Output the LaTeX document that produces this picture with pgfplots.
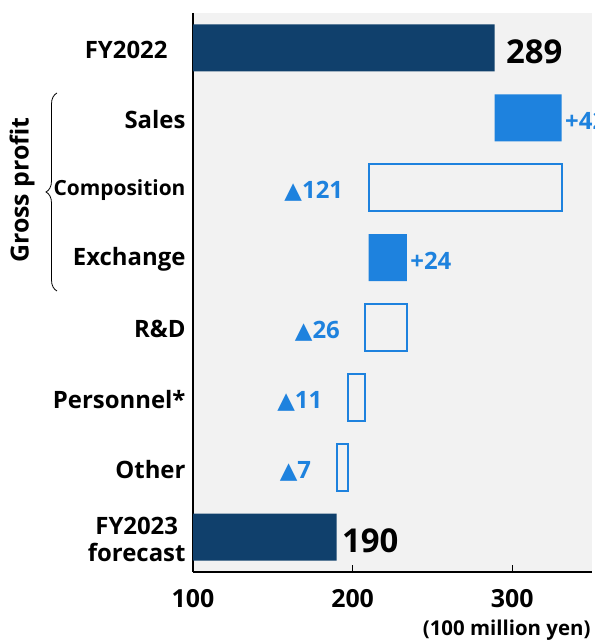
\documentclass[border=0pt]{standalone}
\usepackage{pgfplots}
\pgfplotsset{compat=1.18}
\usepackage{pgfplotstable}
\usepackage{fontspec}
\setmainfont{Open Sans}
\newfontfamily\symfont{DejaVu Sans}
\usetikzlibrary{decorations.pathreplacing}

\definecolor{navy}{HTML}{10406C}
\definecolor{brightblue}{HTML}{1E82DE}
\definecolor{panel}{HTML}{F2F2F2}

\newcommand{\tri}{{\symfont\fontsize{23}{23}\selectfont ▲}}

% operating profit bridge (100 million yen)
\pgfplotstableread{
row base gain loss total
0   0    0    0    289
1   289  42   0    0
2   210  0    121  0
3   210  24   0    0
4   208  0    26   0
5   197  0    11   0
6   190  0    7    0
7   0    0    0    190
}\bridge

\pgfplotstableread{
x   y lab
289 0 289
}\startlabel

\pgfplotstableread{
x   y lab
190 7 190
}\endlabel

\pgfplotstableread{
x   y lab
331 1 42
234 3 24
}\gainlabels

\pgfplotstableread{
x   y lab
210 2 121
208 4 26
197 5 11
190 6 7
}\losslabels

\pgfplotsset{
  bridgeframe/.style={
    at={(193bp,69bp)}, anchor=south west,
    scale only axis, width=399bp, height=559bp,
    xmin=100, xmax=350, ymin=-0.5, ymax=7.5, y dir=reverse,
    /pgf/number format/assume math mode=true,
  },
  totalstyle/.style={only marks, mark=none, point meta=explicit,
    nodes near coords={\pgfmathprintnumber{\pgfplotspointmeta}},
    nodes near coords style={anchor=west, xshift=#1, yshift=-4bp, text=black,
      font=\bfseries\fontsize{33}{33}\selectfont}},
}

\begin{document}
\begin{tikzpicture}
\begin{axis}[
  bridgeframe,
  xbar stacked, bar width=47bp,
  axis x line*=bottom, axis y line*=left,
  axis line style={-, line width=2.4bp, black},
  axis background/.style={fill=panel},
  xtick={100,200,300}, xtick align=inside,
  major tick length=7bp,
  xtick style={line width=1bp, black},
  ytick={0,...,7}, ytick style={draw=none},
  yticklabels={
    {FY2022\hspace{18bp}},
    Sales,
    {\fontsize{21}{22}\selectfont Composition},
    Exchange,
    R\&D,
    Personnel*,
    Other,
    {FY2023\\forecast}},
  yticklabel style={font=\bfseries\fontsize{24}{27}\selectfont, align=center, xshift=-4bp, yshift=-2bp},
  xticklabel style={font=\bfseries\fontsize{25}{26}\selectfont, yshift=-14bp},
  xlabel={(100 million yen)},
  xlabel style={at={(axis description cs:1,0)}, anchor=east, yshift=-58bp, xshift=2bp,
    font=\bfseries\fontsize{20.5}{22}\selectfont},
]
  \addplot[draw=none, fill=none] table[x=base, y=row] {\bridge};
  \addplot[draw=none, fill=brightblue] table[x=gain, y=row] {\bridge};
  \addplot[draw=brightblue, line width=2bp, fill=none] table[x=loss, y=row] {\bridge};
  \addplot[draw=none, fill=navy] table[x=total, y=row] {\bridge};
\end{axis}

% value labels
\begin{axis}[bridgeframe, hide axis, clip=false]
  \addplot[totalstyle=8bp] table[x=x, y=y, meta=lab] {\startlabel};
  \addplot[totalstyle=2bp] table[x=x, y=y, meta=lab] {\endlabel};
  \addplot[only marks, mark=none, point meta=explicit,
    nodes near coords={+\pgfmathprintnumber{\pgfplotspointmeta}},
    nodes near coords style={anchor=west, xshift=0bp, yshift=-3bp, text=brightblue,
      font=\bfseries\fontsize{24}{24}\selectfont}]
    table[x=x, y=y, meta=lab] {\gainlabels};
  \addplot[only marks, mark=none, point meta=explicit,
    nodes near coords={\tri\pgfmathprintnumber{\pgfplotspointmeta}},
    nodes near coords style={anchor=east, xshift=-22bp, yshift=-4bp, text=brightblue,
      font=\bfseries\fontsize{24}{24}\selectfont}]
    table[x=x, y=y, meta=lab] {\losslabels};
\end{axis}

% gross profit group
\draw[decorate, decoration={brace, amplitude=11bp}, line width=0.8bp]
  (57bp,350bp) -- (57bp,548bp);
\node[rotate=90, font=\bfseries\fontsize{25}{25}\selectfont] at (22bp,451bp) {Gross profit};

\pgfresetboundingbox
\path (0,0) rectangle (595bp,641bp);
\end{tikzpicture}
\end{document}
